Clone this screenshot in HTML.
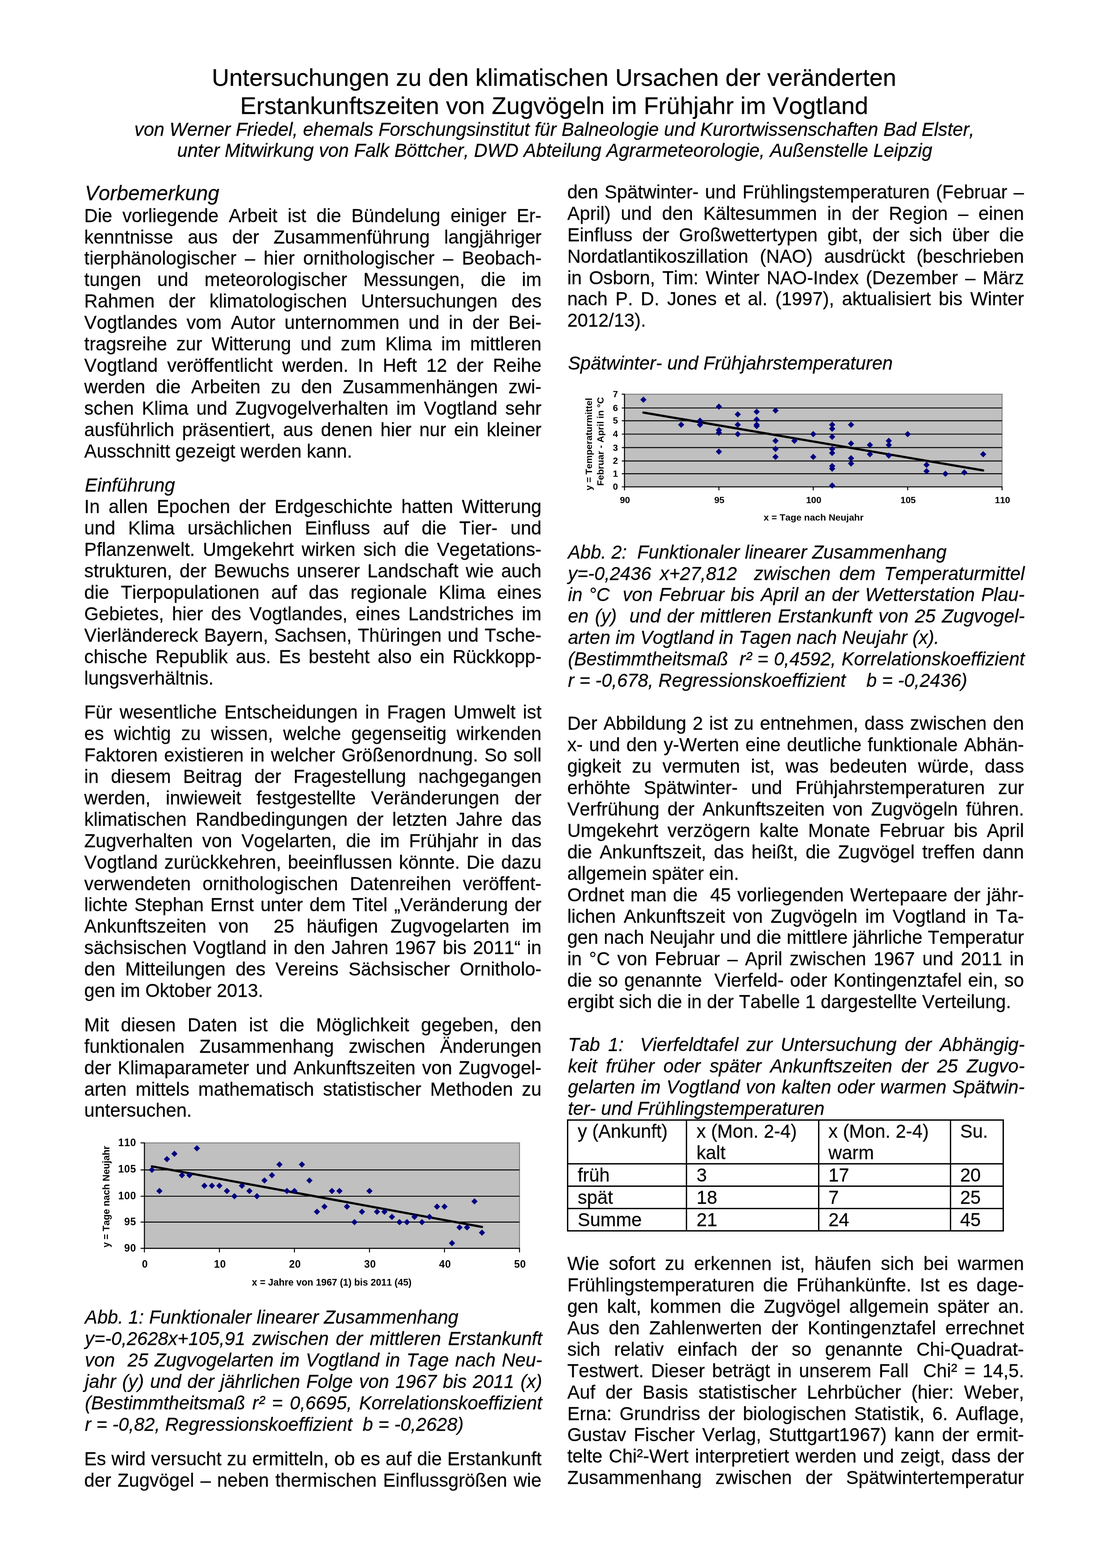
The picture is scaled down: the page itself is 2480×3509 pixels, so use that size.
<!DOCTYPE html>
<html lang="de">
<head>
<meta charset="utf-8">
<title>Untersuchungen zu den klimatischen Ursachen der veränderten Erstankunftszeiten von Zugvögeln im Frühjahr im Vogtland</title>
<style>
html,body{margin:0;padding:0;background:#fff}
body{width:2480px;height:3509px;position:relative;overflow:hidden;font-family:"Liberation Sans",sans-serif;color:#000}
#pg div{position:absolute;white-space:pre;font-kerning:none;-webkit-text-stroke:0.3px #000;font-size:41.667px;line-height:48px;height:48px}
#pg div.i{font-style:italic}
#pg div.t{font-size:54.167px}
#pg div.h{font-size:45.833px}
svg{position:absolute;display:block}
svg.ch{filter:blur(0.5px)}
svg text{font-family:"Liberation Sans",sans-serif;font-weight:bold;fill:#000;font-kerning:none}
</style>
</head>
<body>
<svg class="ch" style="left:200px;top:2520px" width="1020" height="400" viewBox="200 2520 1020 400"><rect x="323.2" y="2557.7" width="839.6" height="236.0" fill="#c0c0c0" stroke="#808080" stroke-width="2.2"/><path d="M323.2 2734.9H1162.8M323.2 2677.0H1162.8M323.2 2618.1H1162.8M323.2 2556.7V2794.7M322.2 2793.7H1163.8M314.6 2793.7H323.2M314.6 2734.9H323.2M314.6 2677.0H323.2M314.6 2618.1H323.2M314.6 2557.7H323.2M323.2 2793.7V2802.7M491.1 2793.7V2802.7M659.0 2793.7V2802.7M827.0 2793.7V2802.7M994.9 2793.7V2802.7M1162.8 2793.7V2802.7" stroke="#000" stroke-width="2.2" fill="none"/><line x1="340.0" y1="2610.3" x2="1078.8" y2="2745.7" stroke="#000" stroke-width="5" stroke-linecap="round"/><path fill="#000080" d="M340.0 2611.1l7.0 7.0l-7.0 7.0l-7.0 -7.0zM356.8 2658.2l7.0 7.0l-7.0 7.0l-7.0 -7.0zM373.6 2586.9l7.0 7.0l-7.0 7.0l-7.0 -7.0zM390.4 2574.9l7.0 7.0l-7.0 7.0l-7.0 -7.0zM407.2 2622.9l7.0 7.0l-7.0 7.0l-7.0 -7.0zM424.0 2622.9l7.0 7.0l-7.0 7.0l-7.0 -7.0zM440.7 2562.8l7.0 7.0l-7.0 7.0l-7.0 -7.0zM457.5 2646.4l7.0 7.0l-7.0 7.0l-7.0 -7.0zM474.3 2646.4l7.0 7.0l-7.0 7.0l-7.0 -7.0zM491.1 2646.4l7.0 7.0l-7.0 7.0l-7.0 -7.0zM507.9 2658.2l7.0 7.0l-7.0 7.0l-7.0 -7.0zM524.7 2670.0l7.0 7.0l-7.0 7.0l-7.0 -7.0zM541.5 2646.4l7.0 7.0l-7.0 7.0l-7.0 -7.0zM558.3 2658.2l7.0 7.0l-7.0 7.0l-7.0 -7.0zM575.1 2670.0l7.0 7.0l-7.0 7.0l-7.0 -7.0zM591.9 2634.7l7.0 7.0l-7.0 7.0l-7.0 -7.0zM608.7 2622.9l7.0 7.0l-7.0 7.0l-7.0 -7.0zM625.5 2599.0l7.0 7.0l-7.0 7.0l-7.0 -7.0zM642.2 2658.2l7.0 7.0l-7.0 7.0l-7.0 -7.0zM659.0 2658.2l7.0 7.0l-7.0 7.0l-7.0 -7.0zM675.8 2599.0l7.0 7.0l-7.0 7.0l-7.0 -7.0zM692.6 2634.7l7.0 7.0l-7.0 7.0l-7.0 -7.0zM709.4 2704.7l7.0 7.0l-7.0 7.0l-7.0 -7.0zM726.2 2693.2l7.0 7.0l-7.0 7.0l-7.0 -7.0zM743.0 2658.2l7.0 7.0l-7.0 7.0l-7.0 -7.0zM759.8 2658.2l7.0 7.0l-7.0 7.0l-7.0 -7.0zM776.6 2693.2l7.0 7.0l-7.0 7.0l-7.0 -7.0zM793.4 2727.9l7.0 7.0l-7.0 7.0l-7.0 -7.0zM810.2 2704.7l7.0 7.0l-7.0 7.0l-7.0 -7.0zM827.0 2658.2l7.0 7.0l-7.0 7.0l-7.0 -7.0zM843.8 2704.7l7.0 7.0l-7.0 7.0l-7.0 -7.0zM860.5 2704.7l7.0 7.0l-7.0 7.0l-7.0 -7.0zM877.3 2716.3l7.0 7.0l-7.0 7.0l-7.0 -7.0zM894.1 2727.9l7.0 7.0l-7.0 7.0l-7.0 -7.0zM910.9 2727.9l7.0 7.0l-7.0 7.0l-7.0 -7.0zM927.7 2716.3l7.0 7.0l-7.0 7.0l-7.0 -7.0zM944.5 2727.9l7.0 7.0l-7.0 7.0l-7.0 -7.0zM961.3 2716.3l7.0 7.0l-7.0 7.0l-7.0 -7.0zM978.1 2693.2l7.0 7.0l-7.0 7.0l-7.0 -7.0zM994.9 2693.2l7.0 7.0l-7.0 7.0l-7.0 -7.0zM1011.7 2774.9l7.0 7.0l-7.0 7.0l-7.0 -7.0zM1028.5 2739.7l7.0 7.0l-7.0 7.0l-7.0 -7.0zM1045.3 2739.7l7.0 7.0l-7.0 7.0l-7.0 -7.0zM1062.0 2681.6l7.0 7.0l-7.0 7.0l-7.0 -7.0zM1078.8 2751.4l7.0 7.0l-7.0 7.0l-7.0 -7.0z"/><g font-size="23" letter-spacing="0.6"><text x="304.8" y="2801.1" text-anchor="end">90</text><text x="304.8" y="2742.2" text-anchor="end">95</text><text x="304.8" y="2683.8" text-anchor="end">100</text><text x="304.8" y="2624.2" text-anchor="end">105</text><text x="304.8" y="2564.7" text-anchor="end">110</text><text x="324.5" y="2837.0" text-anchor="middle">0</text><text x="492.4" y="2837.0" text-anchor="middle">10</text><text x="660.3" y="2837.0" text-anchor="middle">20</text><text x="828.3" y="2837.0" text-anchor="middle">30</text><text x="996.2" y="2837.0" text-anchor="middle">40</text><text x="1164.1" y="2837.0" text-anchor="middle">50</text></g><g font-size="21.4"><text x="742.5" y="2876.8" text-anchor="middle">x = Jahre von 1967 (1) bis 2011 (45)</text><text transform="translate(245.0 2677.9) rotate(-90)" text-anchor="middle">y = Tage nach Neujahr</text></g></svg><svg class="ch" style="left:1280px;top:850px" width="1020" height="350" viewBox="1280 850 1020 350"><rect x="1397.8" y="882.2" width="845.1" height="207.3" fill="#c0c0c0" stroke="#808080" stroke-width="2.2"/><path d="M1397.8 1060.2H2242.9M1397.8 1031.6H2242.9M1397.8 1001.7H2242.9M1397.8 971.5H2242.9M1397.8 941.6H2242.9M1397.8 913.0H2242.9M1397.8 881.2V1090.5M1396.8 1089.5H2243.9M1391.7 1089.5H1397.8M1391.7 1060.2H1397.8M1391.7 1031.6H1397.8M1391.7 1001.7H1397.8M1391.7 971.5H1397.8M1391.7 941.6H1397.8M1391.7 913.0H1397.8M1391.7 882.2H1397.8M1397.8 1089.5V1097.2M1609.1 1089.5V1097.2M1820.3 1089.5V1097.2M2031.6 1089.5V1097.2M2242.9 1089.5V1097.2" stroke="#000" stroke-width="2.2" fill="none"/><line x1="1440.1" y1="923.2" x2="2200.6" y2="1052.8" stroke="#000" stroke-width="5" stroke-linecap="round"/><path fill="#000080" d="M1440.1 887.5l7.0 7.0l-7.0 7.0l-7.0 -7.0zM1524.6 943.6l7.0 7.0l-7.0 7.0l-7.0 -7.0zM1566.8 934.6l7.0 7.0l-7.0 7.0l-7.0 -7.0zM1566.8 943.6l7.0 7.0l-7.0 7.0l-7.0 -7.0zM1609.1 902.9l7.0 7.0l-7.0 7.0l-7.0 -7.0zM1609.1 955.5l7.0 7.0l-7.0 7.0l-7.0 -7.0zM1609.1 961.5l7.0 7.0l-7.0 7.0l-7.0 -7.0zM1609.1 1003.7l7.0 7.0l-7.0 7.0l-7.0 -7.0zM1651.3 920.3l7.0 7.0l-7.0 7.0l-7.0 -7.0zM1651.3 943.6l7.0 7.0l-7.0 7.0l-7.0 -7.0zM1651.3 964.5l7.0 7.0l-7.0 7.0l-7.0 -7.0zM1693.6 914.6l7.0 7.0l-7.0 7.0l-7.0 -7.0zM1693.6 931.7l7.0 7.0l-7.0 7.0l-7.0 -7.0zM1693.6 943.6l7.0 7.0l-7.0 7.0l-7.0 -7.0zM1693.6 946.6l7.0 7.0l-7.0 7.0l-7.0 -7.0zM1735.8 911.7l7.0 7.0l-7.0 7.0l-7.0 -7.0zM1735.8 979.6l7.0 7.0l-7.0 7.0l-7.0 -7.0zM1735.8 997.7l7.0 7.0l-7.0 7.0l-7.0 -7.0zM1735.8 1015.6l7.0 7.0l-7.0 7.0l-7.0 -7.0zM1778.1 979.6l7.0 7.0l-7.0 7.0l-7.0 -7.0zM1820.3 964.5l7.0 7.0l-7.0 7.0l-7.0 -7.0zM1820.3 1015.6l7.0 7.0l-7.0 7.0l-7.0 -7.0zM1862.6 943.6l7.0 7.0l-7.0 7.0l-7.0 -7.0zM1862.6 952.5l7.0 7.0l-7.0 7.0l-7.0 -7.0zM1862.6 970.5l7.0 7.0l-7.0 7.0l-7.0 -7.0zM1862.6 997.7l7.0 7.0l-7.0 7.0l-7.0 -7.0zM1862.6 1006.7l7.0 7.0l-7.0 7.0l-7.0 -7.0zM1862.6 1036.0l7.0 7.0l-7.0 7.0l-7.0 -7.0zM1862.6 1041.8l7.0 7.0l-7.0 7.0l-7.0 -7.0zM1862.6 1079.6l7.0 7.0l-7.0 7.0l-7.0 -7.0zM1904.9 943.6l7.0 7.0l-7.0 7.0l-7.0 -7.0zM1904.9 985.6l7.0 7.0l-7.0 7.0l-7.0 -7.0zM1904.9 1018.6l7.0 7.0l-7.0 7.0l-7.0 -7.0zM1904.9 1030.3l7.0 7.0l-7.0 7.0l-7.0 -7.0zM1947.1 988.7l7.0 7.0l-7.0 7.0l-7.0 -7.0zM1947.1 1009.6l7.0 7.0l-7.0 7.0l-7.0 -7.0zM1989.4 979.6l7.0 7.0l-7.0 7.0l-7.0 -7.0zM1989.4 988.7l7.0 7.0l-7.0 7.0l-7.0 -7.0zM1989.4 1012.6l7.0 7.0l-7.0 7.0l-7.0 -7.0zM2031.6 964.5l7.0 7.0l-7.0 7.0l-7.0 -7.0zM2073.9 1033.2l7.0 7.0l-7.0 7.0l-7.0 -7.0zM2073.9 1047.5l7.0 7.0l-7.0 7.0l-7.0 -7.0zM2116.1 1053.2l7.0 7.0l-7.0 7.0l-7.0 -7.0zM2158.4 1050.3l7.0 7.0l-7.0 7.0l-7.0 -7.0zM2200.6 1009.6l7.0 7.0l-7.0 7.0l-7.0 -7.0z"/><g font-size="20.5" letter-spacing="0"><text x="1383.2" y="1096.3" text-anchor="end">0</text><text x="1383.2" y="1067.0" text-anchor="end">1</text><text x="1383.2" y="1038.4" text-anchor="end">2</text><text x="1383.2" y="1008.5" text-anchor="end">3</text><text x="1383.2" y="978.3" text-anchor="end">4</text><text x="1383.2" y="948.4" text-anchor="end">5</text><text x="1383.2" y="919.8" text-anchor="end">6</text><text x="1383.2" y="889.0" text-anchor="end">7</text><text x="1398.8" y="1125.8" text-anchor="middle">90</text><text x="1610.1" y="1125.8" text-anchor="middle">95</text><text x="1821.3" y="1125.8" text-anchor="middle">100</text><text x="2032.6" y="1125.8" text-anchor="middle">105</text><text x="2243.9" y="1125.8" text-anchor="middle">110</text></g><g font-size="21"><text x="1821.1" y="1165.0" text-anchor="middle">x = Tage nach Neujahr</text><text transform="translate(1325.0 994.0) rotate(-90)" text-anchor="middle">y = Temperaturmittel</text><text transform="translate(1351.0 988.0) rotate(-90)" text-anchor="middle">Februar - April in °C</text></g></svg>
<svg style="left:1260px;top:2500px" width="1000" height="262" viewBox="1260 2500 1000 262" shape-rendering="crispEdges" fill="#000"><rect x="1269" y="2505" width="978" height="3"/><rect x="1269" y="2603" width="978" height="3"/><rect x="1269" y="2653" width="978" height="3"/><rect x="1269" y="2703" width="978" height="3"/><rect x="1269" y="2753" width="978" height="3"/><rect x="1269" y="2505" width="3" height="251"/><rect x="1535" y="2505" width="3" height="251"/><rect x="1831" y="2505" width="3" height="251"/><rect x="2126" y="2505" width="3" height="251"/><rect x="2244" y="2505" width="3" height="251"/></svg>
<div id="pg">
<div class="t" style="left:473.9px;top:149px">Untersuchungen zu den klimatischen Ursachen der veränderten</div>
<div class="t" style="left:537.6px;top:212px">Erstankunftszeiten von Zugvögeln im Frühjahr im Vogtland</div>
<div class="i" style="left:300.8px;top:266px">von Werner Friedel, ehemals Forschungsinstitut für Balneologie und Kurortwissenschaften Bad Elster,</div>
<div class="i" style="left:396.6px;top:313px">unter Mitwirkung von Falk Böttcher, DWD Abteilung Agrarmeteorologie, Außenstelle Leipzig</div>
<div class="i h" style="left:190.1px;top:409px">Vorbemerkung</div>
<div style="left:188.6px;top:459px;word-spacing:11.23px">Die vorliegende Arbeit ist die Bündelung einiger Er-</div>
<div style="left:188.6px;top:507px;word-spacing:20.82px">kenntnisse aus der Zusammenführung langjähriger</div>
<div style="left:188.6px;top:554px;word-spacing:7.39px">tierphänologischer – hier ornithologischer – Beobach-</div>
<div style="left:188.6px;top:602px;word-spacing:24.52px">tungen und meteorologischer Messungen, die im</div>
<div style="left:188.6px;top:650px;word-spacing:19.66px">Rahmen der klimatologischen Untersuchungen des</div>
<div style="left:188.6px;top:698px;word-spacing:8.92px">Vogtlandes vom Autor unternommen und in der Bei-</div>
<div style="left:188.6px;top:746px;word-spacing:9.28px">tragsreihe zur Witterung und zum Klima im mittleren</div>
<div style="left:188.6px;top:794px;word-spacing:9.58px">Vogtland veröffentlicht werden. In Heft 12 der Reihe</div>
<div style="left:188.6px;top:842px;word-spacing:11.95px">werden die Arbeiten zu den Zusammenhängen zwi-</div>
<div style="left:188.6px;top:890px;word-spacing:6.16px">schen Klima und Zugvogelverhalten im Vogtland sehr</div>
<div style="left:188.6px;top:938px;word-spacing:5.94px">ausführlich präsentiert, aus denen hier nur ein kleiner</div>
<div style="left:188.6px;top:986px">Ausschnitt gezeigt werden kann.</div>
<div class="i" style="left:190.1px;top:1062px">Einführung</div>
<div style="left:188.6px;top:1110px;word-spacing:8.08px">In allen Epochen der Erdgeschichte hatten Witterung</div>
<div style="left:188.6px;top:1158px;word-spacing:17.20px">und Klima ursächlichen Einfluss auf die Tier- und</div>
<div style="left:188.6px;top:1206px;word-spacing:6.02px">Pflanzenwelt. Umgekehrt wirken sich die Vegetations-</div>
<div style="left:188.6px;top:1254px;word-spacing:5.01px">strukturen, der Bewuchs unserer Landschaft wie auch</div>
<div style="left:188.6px;top:1302px;word-spacing:14.64px">die Tierpopulationen auf das regionale Klima eines</div>
<div style="left:188.6px;top:1350px;word-spacing:6.55px">Gebietes, hier des Vogtlandes, eines Landstriches im</div>
<div style="left:188.6px;top:1398px;word-spacing:1.84px">Vierländereck Bayern, Sachsen, Thüringen und Tsche-</div>
<div style="left:188.6px;top:1446px;word-spacing:6.28px">chische Republik aus. Es besteht also ein Rückkopp-</div>
<div style="left:188.6px;top:1494px">lungsverhältnis.</div>
<div style="left:188.6px;top:1570px;word-spacing:5.02px">Für wesentliche Entscheidungen in Fragen Umwelt ist</div>
<div style="left:188.6px;top:1618px;word-spacing:11.18px">es wichtig zu wissen, welche gegenseitig wirkenden</div>
<div style="left:188.6px;top:1666px;word-spacing:2.70px">Faktoren existieren in welcher Größenordnung. So soll</div>
<div style="left:188.6px;top:1714px;word-spacing:15.71px">in diesem Beitrag der Fragestellung nachgegangen</div>
<div style="left:188.6px;top:1762px;word-spacing:22.55px">werden, inwieweit festgestellte Veränderungen der</div>
<div style="left:188.6px;top:1810px;word-spacing:8.30px">klimatischen Randbedingungen der letzten Jahre das</div>
<div style="left:188.6px;top:1858px;word-spacing:9.25px">Zugverhalten von Vogelarten, die im Frühjahr in das</div>
<div style="left:188.6px;top:1906px;word-spacing:3.21px">Vogtland zurückkehren, beeinflussen könnte. Die dazu</div>
<div style="left:188.6px;top:1954px;word-spacing:14.62px">verwendeten ornithologischen Datenreihen veröffent-</div>
<div style="left:188.6px;top:2001px;word-spacing:3.30px">lichte Stephan Ernst unter dem Titel „Veränderung der</div>
<div style="left:188.6px;top:2049px;word-spacing:16.18px">Ankunftszeiten von  25 häufigen Zugvogelarten im</div>
<div style="left:188.6px;top:2097px;word-spacing:2.87px">sächsischen Vogtland in den Jahren 1967 bis 2011“ in</div>
<div style="left:188.6px;top:2145px;word-spacing:10.64px">den Mitteilungen des Vereins Sächsischer Ornitholo-</div>
<div style="left:188.6px;top:2193px">gen im Oktober 2013.</div>
<div style="left:188.6px;top:2270px;word-spacing:14.87px">Mit diesen Daten ist die Möglichkeit gegeben, den</div>
<div style="left:188.6px;top:2318px;word-spacing:21.56px">funktionalen Zusammenhang zwischen Änderungen</div>
<div style="left:188.6px;top:2366px;word-spacing:3.23px">der Klimaparameter und Ankunftszeiten von Zugvogel-</div>
<div style="left:188.6px;top:2414px;word-spacing:8.35px">arten mittels mathematisch statistischer Methoden zu</div>
<div style="left:188.6px;top:2461px">untersuchen.</div>
<div class="i" style="left:190.1px;top:2924px">Abb. 1: Funktionaler linearer Zusammenhang</div>
<div class="i" style="left:190.1px;top:2972px;word-spacing:4.03px">y=-0,2628x+105,91 zwischen der mittleren Erstankunft</div>
<div class="i" style="left:190.1px;top:3020px;word-spacing:2.56px">von  25 Zugvogelarten im Vogtland in Tage nach Neu-</div>
<div class="i" style="left:190.1px;top:3068px;word-spacing:2.31px">jahr (y) und der jährlichen Folge von 1967 bis 2011 (x)</div>
<div class="i" style="left:190.1px;top:3116px;word-spacing:4.37px">(Bestimmtheitsmaß r² = 0,6695, Korrelationskoeffizient</div>
<div class="i" style="left:190.1px;top:3164px">r = -0,82, Regressionskoeffizient  b = -0,2628)</div>
<div style="left:188.6px;top:3241px;word-spacing:0.78px">Es wird versucht zu ermitteln, ob es auf die Erstankunft</div>
<div style="left:188.6px;top:3289px;word-spacing:2.69px">der Zugvögel – neben thermischen Einflussgrößen wie</div>
<div style="left:1269.7px;top:406px;word-spacing:2.55px">den Spätwinter- und Frühlingstemperaturen (Februar –</div>
<div style="left:1269.7px;top:454px;word-spacing:11.14px">April) und den Kältesummen in der Region – einen</div>
<div style="left:1269.7px;top:502px;word-spacing:10.43px">Einfluss der Großwettertypen gibt, der sich über die</div>
<div style="left:1269.7px;top:550px;word-spacing:14.31px">Nordatlantikoszillation (NAO) ausdrückt (beschrieben</div>
<div style="left:1269.7px;top:598px;word-spacing:4.51px">in Osborn, Tim: Winter NAO-Index (Dezember – März</div>
<div style="left:1269.7px;top:645px;word-spacing:5.80px">nach P. D. Jones et al. (1997), aktualisiert bis Winter</div>
<div style="left:1269.7px;top:693px">2012/13).</div>
<div class="i" style="left:1271.2px;top:789px">Spätwinter- und Frühjahrstemperaturen</div>
<div class="i" style="left:1271.2px;top:1212px">Abb. 2:  Funktionaler linearer Zusammenhang</div>
<div class="i" style="left:1271.2px;top:1260px;word-spacing:7.65px">y=-0,2436 x+27,812  zwischen dem Temperaturmittel</div>
<div class="i" style="left:1271.2px;top:1307px;word-spacing:2.86px">in °C  von Februar bis April an der Wetterstation Plau-</div>
<div class="i" style="left:1271.2px;top:1355px;word-spacing:2.71px">en (y)  und der mittleren Erstankunft von 25 Zugvogel-</div>
<div class="i" style="left:1271.2px;top:1403px">arten im Vogtland in Tagen nach Neujahr (x).</div>
<div class="i" style="left:1271.2px;top:1451px;word-spacing:0.96px">(Bestimmtheitsmaß  r² = 0,4592, Korrelationskoeffizient</div>
<div class="i" style="left:1271.2px;top:1499px">r = -0,678, Regressionskoeffizient    b = -0,2436)</div>
<div style="left:1269.7px;top:1595px;word-spacing:2.45px">Der Abbildung 2 ist zu entnehmen, dass zwischen den</div>
<div style="left:1269.7px;top:1643px;word-spacing:2.47px">x- und den y-Werten eine deutliche funktionale Abhän-</div>
<div style="left:1269.7px;top:1691px;word-spacing:12.74px">gigkeit zu vermuten ist, was bedeuten würde, dass</div>
<div style="left:1269.7px;top:1739px;word-spacing:18.24px">erhöhte Spätwinter- und Frühjahrstemperaturen zur</div>
<div style="left:1269.7px;top:1787px;word-spacing:6.70px">Verfrühung der Ankunftszeiten von Zugvögeln führen.</div>
<div style="left:1269.7px;top:1835px;word-spacing:9.09px">Umgekehrt verzögern kalte Monate Februar bis April</div>
<div style="left:1269.7px;top:1883px;word-spacing:5.45px">die Ankunftszeit, das heißt, die Zugvögel treffen dann</div>
<div style="left:1269.7px;top:1931px">allgemein später ein.</div>
<div style="left:1269.7px;top:1979px;word-spacing:2.46px">Ordnet man die  45 vorliegenden Wertepaare der jähr-</div>
<div style="left:1269.7px;top:2027px;word-spacing:5.79px">lichen Ankunftszeit von Zugvögeln im Vogtland in Ta-</div>
<div style="left:1269.7px;top:2074px;word-spacing:0.50px">gen nach Neujahr und die mittlere jährliche Temperatur</div>
<div style="left:1269.7px;top:2122px;word-spacing:4.93px">in °C von Februar – April zwischen 1967 und 2011 in</div>
<div style="left:1269.7px;top:2170px;word-spacing:2.44px">die so genannte  Vierfeld- oder Kontingenztafel ein, so</div>
<div style="left:1269.7px;top:2218px">ergibt sich die in der Tabelle 1 dargestellte Verteilung.</div>
<div class="i" style="left:1271.2px;top:2314px;word-spacing:6.78px">Tab 1:  Vierfeldtafel zur Untersuchung der Abhängig-</div>
<div class="i" style="left:1271.2px;top:2362px;word-spacing:8.44px">keit früher oder später Ankunftszeiten der 25 Zugvo-</div>
<div class="i" style="left:1271.2px;top:2409px;word-spacing:1.49px">gelarten im Vogtland von kalten oder warmen Spätwin-</div>
<div class="i" style="left:1271.2px;top:2457px">ter- und Frühlingstemperaturen</div>
<div style="left:1269.7px;top:2804px;word-spacing:9.70px">Wie sofort zu erkennen ist, häufen sich bei warmen</div>
<div style="left:1269.7px;top:2852px;word-spacing:7.64px">Frühlingstemperaturen die Frühankünfte. Ist es dage-</div>
<div style="left:1269.7px;top:2900px;word-spacing:8.10px">gen kalt, kommen die Zugvögel allgemein später an.</div>
<div style="left:1269.7px;top:2948px;word-spacing:9.48px">Aus den Zahlenwerten der Kontingenztafel errechnet</div>
<div style="left:1269.7px;top:2996px;word-spacing:19.10px">sich relativ einfach der so genannte Chi-Quadrat-</div>
<div style="left:1269.7px;top:3044px;word-spacing:4.65px">Testwert. Dieser beträgt in unserem Fall  Chi² = 14,5.</div>
<div style="left:1269.7px;top:3092px;word-spacing:11.40px">Auf der Basis statistischer Lehrbücher (hier: Weber,</div>
<div style="left:1269.7px;top:3140px;word-spacing:5.99px">Erna: Grundriss der biologischen Statistik, 6. Auflage,</div>
<div style="left:1269.7px;top:3187px;word-spacing:5.23px">Gustav Fischer Verlag, Stuttgart1967) kann der ermit-</div>
<div style="left:1269.7px;top:3235px;word-spacing:2.83px">telte Chi²-Wert interpretiert werden und zeigt, dass der</div>
<div style="left:1269.7px;top:3283px;word-spacing:18.93px">Zusammenhang zwischen der Spätwintertemperatur</div>
<div style="left:1293.0px;top:2508px">y (Ankunft)</div>
<div style="left:1559.0px;top:2508px">x (Mon. 2-4)</div>
<div style="left:1854.3px;top:2508px">x (Mon. 2-4)</div>
<div style="left:2148.9px;top:2508px">Su.</div>
<div style="left:1559.0px;top:2556px">kalt</div>
<div style="left:1854.3px;top:2556px">warm</div>
<div style="left:1293.0px;top:2606px">früh</div>
<div style="left:1559.0px;top:2606px">3</div>
<div style="left:1854.3px;top:2606px">17</div>
<div style="left:2148.9px;top:2606px">20</div>
<div style="left:1293.0px;top:2656px">spät</div>
<div style="left:1559.0px;top:2656px">18</div>
<div style="left:1854.3px;top:2656px">7</div>
<div style="left:2148.9px;top:2656px">25</div>
<div style="left:1293.0px;top:2706px">Summe</div>
<div style="left:1559.0px;top:2706px">21</div>
<div style="left:1854.3px;top:2706px">24</div>
<div style="left:2148.9px;top:2706px">45</div>
</div>
</body>
</html>
